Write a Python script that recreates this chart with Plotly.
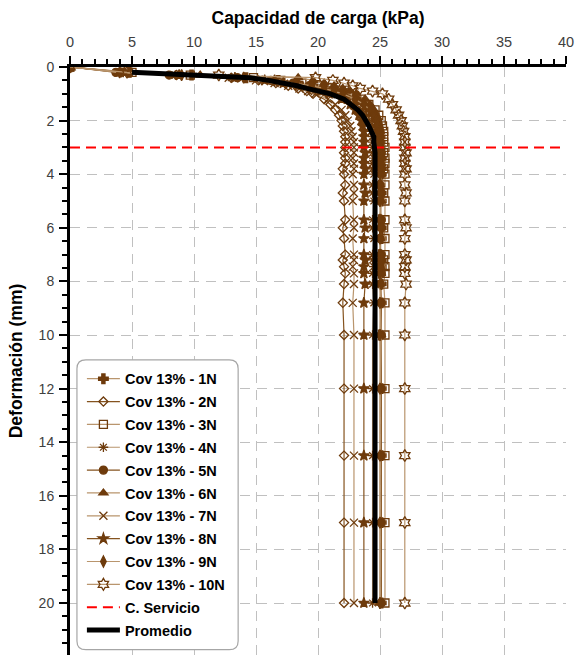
import plotly.graph_objects as go

# Deformation readings (mm) shared by the ten load tests
deformacion = [0, 0.2, 0.3, 0.4, 0.5, 0.6, 0.7, 0.8, 0.9, 1.0,
               1.2, 1.4, 1.6, 1.8, 2.0, 2.2, 2.4, 2.6, 2.8,
               3.0, 3.2, 3.4, 3.6, 3.8, 4.0, 4.4, 4.7, 5.0, 5.7, 6.0, 6.4,
               7.0, 7.2, 7.45, 7.7, 8.1, 8.8, 10.0, 12.0, 14.5, 17.0, 20.0]

# Bearing capacity (kPa) for each test
carga_1n = [0, 4.8, 9.8, 14.2, 16.8, 18.4, 19.6, 20.6, 21.5, 22.2, 23.2, 23.8, 24.2, 24.5, 24.7, 24.8, 24.9, 25.0, 25.0,
            25.0, 25.0, 25.1, 25.0, 25.1, 25.1, 25.0, 25.1, 25.1, 25.0, 25.1, 25.1, 25.0, 25.1, 25.1, 25.0, 25.1, 25.1, 25.0, 25.1, 25.1, 25.1, 25.1]
carga_2n = [0, 4.1, 8.6, 13.0, 15.2, 16.6, 17.6, 18.4, 19.1, 19.6, 20.5, 21.0, 21.4, 21.7, 21.9, 22.0, 22.1, 22.2, 22.2,
            22.2, 22.1, 22.2, 22.2, 22.0, 22.1, 22.2, 22.0, 22.1, 22.2, 22.0, 22.1, 22.2, 22.0, 22.1, 22.2, 22.1, 22.0, 22.1, 22.1, 22.1, 22.1, 22.1]
carga_3n = [0, 5.0, 9.7, 14.8, 17.0, 18.7, 20.0, 21.0, 21.8, 22.5, 23.5, 24.1, 24.6, 24.9, 25.1, 25.2, 25.3, 25.3, 25.3,
            25.4, 25.3, 25.4, 25.4, 25.3, 25.4, 25.4, 25.3, 25.4, 25.4, 25.3, 25.4, 25.4, 25.3, 25.4, 25.4, 25.3, 25.4, 25.4, 25.4, 25.4, 25.4, 25.4]
carga_4n = [0, 4.3, 8.5, 13.0, 15.5, 17.3, 18.6, 19.7, 20.6, 21.3, 22.4, 23.1, 23.6, 23.9, 24.1, 24.2, 24.3, 24.4, 24.4,
            24.4, 24.4, 24.5, 24.4, 24.4, 24.5, 24.4, 24.4, 24.5, 24.4, 24.4, 24.5, 24.4, 24.4, 24.5, 24.4, 24.4, 24.5, 24.4, 24.4, 24.4, 24.4, 24.4]
carga_5n = [0, 3.7, 8.0, 13.5, 16.2, 18.0, 19.3, 20.4, 21.3, 22.0, 23.1, 23.8, 24.3, 24.6, 24.8, 24.9, 25.0, 25.0, 25.0,
            25.0, 25.1, 25.1, 25.0, 25.1, 25.1, 25.0, 25.1, 25.0, 25.1, 25.1, 25.0, 25.1, 25.1, 25.0, 25.1, 25.0, 25.1, 25.1, 25.1, 25.1, 25.1, 25.1]
carga_6n = [0, 4.2, 10.5, 18.4, 19.6, 20.5, 21.3, 22.0, 22.6, 23.1, 23.8, 24.2, 24.5, 24.7, 24.8, 24.9, 25.0, 25.0, 25.0,
            25.0, 25.0, 25.1, 25.1, 25.0, 25.1, 25.0, 25.0, 25.1, 25.0, 25.1, 25.0, 25.0, 25.1, 25.0, 25.1, 25.0, 25.0, 25.1, 25.0, 25.0, 25.0, 25.0]
carga_7n = [0, 3.9, 8.2, 12.8, 15.0, 16.5, 17.6, 18.5, 19.2, 19.8, 20.8, 21.4, 21.9, 22.2, 22.4, 22.6, 22.7, 22.8, 22.9,
            22.9, 22.9, 22.8, 22.9, 22.9, 22.8, 22.9, 22.9, 22.8, 22.9, 22.9, 22.8, 22.9, 22.9, 22.8, 22.9, 22.9, 22.8, 22.9, 22.9, 22.9, 22.9, 22.9]
carga_8n = [0, 4.4, 8.8, 13.3, 15.7, 17.2, 18.4, 19.4, 20.2, 20.9, 21.9, 22.6, 23.0, 23.3, 23.5, 23.6, 23.7, 23.7, 23.7,
            23.7, 23.8, 23.7, 23.7, 23.8, 23.7, 23.7, 23.8, 23.7, 23.7, 23.8, 23.7, 23.7, 23.8, 23.7, 23.7, 23.8, 23.7, 23.7, 23.7, 23.7, 23.7, 23.7]
carga_9n = [0, 4.0, 9.0, 14.0, 16.5, 18.2, 19.5, 20.5, 21.3, 22.0, 23.0, 23.7, 24.2, 24.5, 24.7, 24.8, 24.9, 25.0, 25.0,
            25.0, 25.1, 25.0, 25.0, 25.1, 25.0, 25.0, 25.1, 25.0, 25.0, 25.1, 25.0, 25.0, 25.1, 25.0, 25.0, 25.1, 25.0, 25.0, 25.0, 25.0, 25.0, 25.0]
carga_10n = [0, 4.6, 12.0, 19.8, 21.2, 22.1, 22.8, 23.4, 24.4, 25.2, 25.7, 26.0, 26.3, 26.5, 26.7, 26.8, 26.9, 27.0, 27.0,
             27.0, 27.1, 27.0, 27.0, 27.1, 27.0, 27.0, 27.1, 27.0, 27.0, 27.1, 27.0, 27.0, 27.1, 27.0, 27.0, 27.1, 27.0, 27.0, 27.0, 27.0, 27.0, 27.0]

# Average curve (starts at the first reading after zero)
promedio = [5.0, 10.0, 14.5, 16.0, 17.3, 18.3, 19.1, 20.2, 21.0, 22.1, 22.7, 23.2, 23.6, 23.9, 24.1, 24.3, 24.5, 24.5,
            24.6, 24.6, 24.6, 24.6, 24.6, 24.6, 24.6, 24.6, 24.6, 24.6, 24.6, 24.6, 24.6, 24.6, 24.6, 24.6, 24.6, 24.6, 24.6, 24.6, 24.6, 24.6, 24.6]

servicio_def = 3.0
x_ticks = [0, 5, 10, 15, 20, 25, 30, 35, 40]
y_ticks = [0, 2, 4, 6, 8, 10, 12, 14, 16, 18, 20]

nombres = ["Cov 13% - 1N", "Cov 13% - 2N", "Cov 13% - 3N", "Cov 13% - 4N", "Cov 13% - 5N",
           "Cov 13% - 6N", "Cov 13% - 7N", "Cov 13% - 8N", "Cov 13% - 9N", "Cov 13% - 10N"]
series = [carga_1n, carga_2n, carga_3n, carga_4n, carga_5n,
          carga_6n, carga_7n, carga_8n, carga_9n, carga_10n]

MARK = "#6e3b0c"
LIGHT = "#b9956d"
DARK = "#85531f"
estilos = [
    dict(symbol="cross", size=8, line_color=LIGHT),
    dict(symbol="diamond-open", size=7, line_color=DARK),
    dict(symbol="square-open", size=8, line_color=LIGHT),
    dict(symbol="asterisk-open", size=8, line_color=LIGHT),
    dict(symbol="circle", size=8, line_color=DARK),
    dict(symbol="triangle-up", size=8, line_color=LIGHT),
    dict(symbol="x-thin-open", size=8, line_color=LIGHT),
    dict(symbol="star", size=8, line_color=DARK),
    dict(symbol="diamond-tall", size=8, line_color=LIGHT),
    dict(symbol="hexagram-open", size=9, line_color=LIGHT),
]

fig = go.Figure()

for nombre, valores, est in zip(nombres, series, estilos):
    fig.add_trace(go.Scatter(
        x=valores, y=deformacion, name=nombre, legendgroup=nombre,
        mode="lines+markers",
        line=dict(color=est["line_color"], width=1.2),
        marker=dict(symbol=est["symbol"], size=est["size"], color=MARK,
                    line=dict(color=MARK, width=1.3)),
    ))

fig.add_trace(go.Scatter(
    x=[x_ticks[0], x_ticks[-1]], y=[servicio_def, servicio_def],
    name="C. Servicio", legendgroup="C. Servicio", mode="lines",
    line=dict(color="#ff0000", width=2, dash="10px,6px"),
))

fig.add_trace(go.Scatter(
    x=promedio, y=deformacion[1:], name="Promedio", legendgroup="Promedio",
    mode="lines", line=dict(color="#000000", width=5),
))

# Rounded frame behind the legend
x0, x1, y0, y1 = 0.014, 0.339, 0.009, 0.502
rx, ry = 0.018, 0.015
legend_path = (f"M {x0+rx},{y0} L {x1-rx},{y0} Q {x1},{y0} {x1},{y0+ry} "
               f"L {x1},{y1-ry} Q {x1},{y1} {x1-rx},{y1} L {x0+rx},{y1} "
               f"Q {x0},{y1} {x0},{y1-ry} L {x0},{y0+ry} Q {x0},{y0} {x0+rx},{y0} Z")
fig.add_shape(type="path", path=legend_path, xref="paper", yref="paper",
              line=dict(color="#a6a6a6", width=1.2), fillcolor="white", layer="above")

FONT = "Liberation Sans, Arial, sans-serif"
fig.update_layout(
    width=576, height=655,
    margin=dict(l=70, r=10, t=67, b=0),
    paper_bgcolor="white", plot_bgcolor="white",
    font=dict(family=FONT, size=14, color="#404040"),
    showlegend=True,
    legend=dict(x=0.024, y=0.014, xanchor="left", yanchor="bottom",
                bgcolor="rgba(0,0,0,0)", borderwidth=0,
                font=dict(family=FONT, size=14.5, color="#000000", weight="bold"),
                tracegroupgap=1, itemwidth=33),
    xaxis=dict(
        side="top", range=[0, 40], tickvals=x_ticks,
        title=dict(text="<b>Capacidad de carga (kPa)</b>", font=dict(size=17.5, color="#000000"), standoff=6),
        showline=True, linecolor="#000000", linewidth=3,
        ticks="outside", ticklen=8, tickwidth=1.5, tickcolor="#000000", ticklabelstandoff=3,
        minor=dict(dtick=1, ticks="outside", ticklen=5, tickwidth=1.5, tickcolor="#000000", showgrid=False),
        showgrid=True, gridcolor="#c0c0c0", gridwidth=1.3, griddash="10px,7px",
        zeroline=False, tickfont=dict(size=14.5, color="#404040"),
    ),
    yaxis=dict(
        range=[21.94, 0], tickvals=y_ticks,
        title=dict(text="<b>Deformación (mm)</b>", font=dict(size=17.5, color="#000000"), standoff=12),
        showline=True, linecolor="#000000", linewidth=3,
        ticks="outside", ticklen=8, tickwidth=1.5, tickcolor="#000000", ticklabelstandoff=2,
        minor=dict(dtick=0.5, ticks="outside", ticklen=5, tickwidth=1.5, tickcolor="#000000", showgrid=False),
        showgrid=True, gridcolor="#c0c0c0", gridwidth=1.3, griddash="10px,7px",
        zeroline=False, tickfont=dict(size=14, color="#404040"),
    ),
)

fig.write_html("out.html")
